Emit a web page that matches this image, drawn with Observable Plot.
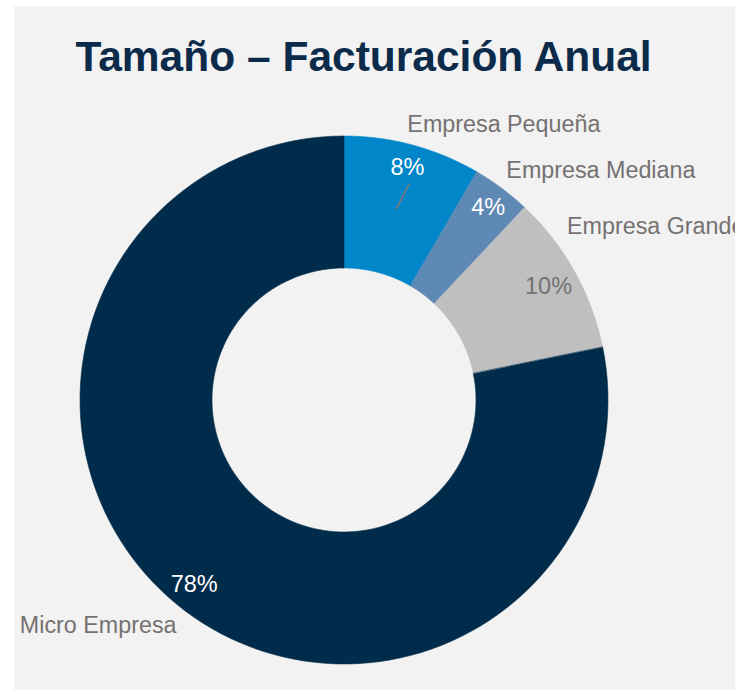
<!DOCTYPE html>
<html>
<head>
<meta charset="utf-8">
<script src="https://cdn.jsdelivr.net/npm/d3@7"></script>
<script src="https://cdn.jsdelivr.net/npm/@observablehq/plot@0.6"></script>
<style>
  html, body { margin: 0; padding: 0; background: #ffffff; width: 735px; height: 690px; overflow: hidden; }
  #panel { position: absolute; left: 14px; top: 6px; width: 721px; height: 684px; background: #f2f2f2; }
  #title { position: absolute; left: -4px; width: 735px; top: 29px; text-align: center;
           font-family: "Liberation Sans", Arial, sans-serif; font-weight: bold; font-size: 42.5px; line-height: 56px;
           color: #0c2b4b; white-space: nowrap; }
  #chart { position: absolute; left: 0; top: 0; }
  #chart svg { overflow: visible; }
</style>
</head>
<body>
<div id="panel"></div>
<div id="title">Tamaño – Facturación Anual</div>
<div id="chart"></div>
<script>
// Data (clockwise from 12 o'clock)
const categories = ["Empresa Pequeña", "Empresa Mediana", "Empresa Grande", "Micro Empresa"];
const shares = [8.4, 3.6, 9.8, 78.2];
const pctLabels = ["8%", "4%", "10%", "78%"];
const colors = ["#0086c9", "#5e89b4", "#bfbfbf", "#012b4a"];
const pctColors = ["#ffffff", "#ffffff", "#767171", "#ffffff"];
// label nudges (px) relative to outer-edge point at slice mid-angle
const nameNudgeX = [-6, 4, -8, -1];
const nameNudgeY = [-21, -18, -45, 21];
const nameAnchor = ["start", "start", "start", "end"];
const pctRadius = [0.915, 0.91, 0.885, 0.9];

const inner = 0.5;
const pie = d3.pie().sort(null).value(d => d)(shares);
const polar = (a, r) => [r * Math.sin(a), r * Math.cos(a)];

// build ring sectors sampled along angle
const ring = [];
pie.forEach((p, i) => {
  const n = 120;
  for (let k = 0; k <= n; k++) {
    const a = p.startAngle + (p.endAngle - p.startAngle) * k / n;
    const [xo, yo] = polar(a, 1);
    const [xi, yi] = polar(a, inner);
    ring.push({cat: categories[i], xo, yo, xi, yi});
  }
});

const mids = pie.map((p, i) => {
  const m = (p.startAngle + p.endAngle) / 2;
  const [px, py] = polar(m, pctRadius[i]);
  const [ox, oy] = polar(m, 1);
  return {i, cat: categories[i], pct: pctLabels[i], px, py, ox, oy, mid: m};
});

const leaders = mids.filter(d => d.i === 0).map(d => {
  const [x1, y1] = polar(d.mid, 0.75);
  const [x2, y2] = polar(d.mid + 0.027, 0.858);
  return {x1, y1, x2, y2};
});

const R = 264, cx = 344, cy = 400;
const chart = Plot.plot({
  width: 735,
  height: 690,
  margin: 0,
  style: {background: "transparent", fontFamily: "'Liberation Sans', Arial, sans-serif"},
  x: {domain: [-1, 1], range: [cx - R, cx + R], axis: null},
  y: {domain: [-1, 1], range: [cy + R, cy - R], axis: null},
  color: {domain: categories, range: colors},
  marks: [
    Plot.area(ring, {x1: "xo", y1: "yo", x2: "xi", y2: "yi", z: "cat", fill: "cat", stroke: "cat", strokeWidth: 0.6, curve: "linear"}),
    Plot.link(leaders, {x1: "x1", y1: "y1", x2: "x2", y2: "y2", stroke: "#7a7676", strokeWidth: 1.6}),
    Plot.text(mids, {x: "px", y: "py", text: "pct", fill: d => pctColors[d.i], fontSize: 23.5}),
    Plot.text(mids, {x: "ox", y: "oy", text: "cat", fill: "#767171", fontSize: 23.3,
      textAnchor: d => nameAnchor[d.i]})
  ]
});
// apply per-label nudges to category labels
const texts = chart.querySelectorAll("g[aria-label='text']");
const nameG = texts[texts.length - 1];
nameG.querySelectorAll("text").forEach((t, k) => {
  t.setAttribute("text-anchor", nameAnchor[k]);
  const tr = t.getAttribute("transform") || "";
  t.setAttribute("transform", tr + ` translate(${nameNudgeX[k]},${nameNudgeY[k]})`);
});
document.getElementById("chart").appendChild(chart);
</script>
</body>
</html>
